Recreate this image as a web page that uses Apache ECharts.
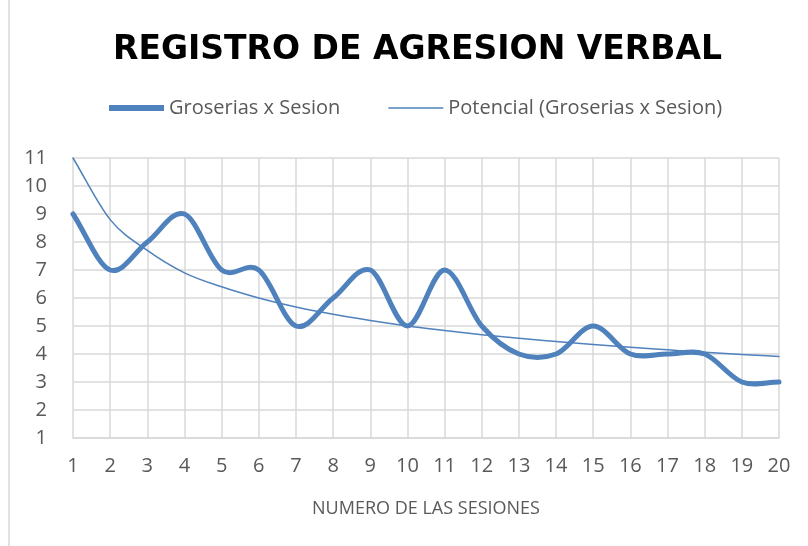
<!DOCTYPE html>
<html>
<head>
<meta charset="utf-8">
<script src="https://cdn.jsdelivr.net/npm/echarts@6/dist/echarts.min.js"></script>
<style>html,body{margin:0;padding:0;background:#fff}#c{width:808px;height:546px}</style>
</head>
<body>
<div id="c"></div>
<script>
const sessions = ['1','2','3','4','5','6','7','8','9','10','11','12','13','14','15','16','17','18','19','20'];
const groserias = [9,7,8,9,7,7,5,6,7,5,7,5,4,4,5,4,4,4,3,3];
const potencial = [11,8.8,7.7,6.9,6.4,6.0,5.68,5.42,5.2,5.0,4.84,4.69,4.56,4.45,4.34,4.24,4.15,4.06,3.98,3.91];
const yTicks = {min:1, max:11, interval:1};

const font = '"Open Sans", sans-serif';
const BLUE = '#4F81BD';

// Smooth (Catmull-Rom style, like Excel) curve through the data, positioned via api.coord
function makeSmoothRender(values, width) {
  return function (params, api) {
    if (params.dataIndex !== 0) return null;
    const n = values.length;
    const p = [];
    for (let i = 0; i < n; i++) p.push(api.coord([i, values[i]]));
    const first = [2 * p[0][0] - p[1][0], 2 * p[0][1] - p[1][1]];
    const last = [2 * p[n - 1][0] - p[n - 2][0], 2 * p[n - 1][1] - p[n - 2][1]];
    const get = (k) => k < 0 ? first : (k > n - 1 ? last : p[k]);
    let d = 'M' + p[0][0] + ',' + p[0][1];
    for (let i = 0; i < n - 1; i++) {
      const p0 = get(i - 1), p1 = p[i], p2 = p[i + 1], p3 = get(i + 2);
      const c1x = p1[0] + (p2[0] - p0[0]) / 6, c1y = p1[1] + (p2[1] - p0[1]) / 6;
      const c2x = p2[0] - (p3[0] - p1[0]) / 6, c2y = p2[1] - (p3[1] - p1[1]) / 6;
      d += 'C' + c1x + ',' + c1y + ' ' + c2x + ',' + c2y + ' ' + p2[0] + ',' + p2[1];
    }
    return {
      type: 'path',
      shape: { pathData: d },
      style: { stroke: BLUE, lineWidth: width, fill: null, lineJoin: 'round', lineCap: 'round' }
    };
  };
}

const chart = echarts.init(document.getElementById('c'));
chart.setOption({
  animation:false,
  backgroundColor:'#fff',
  title:{
    text:'REGISTRO DE AGRESION VERBAL',
    left:108, top:29,
    textStyle:{fontFamily:'"DejaVu Sans", sans-serif', fontWeight:'bold', fontSize:33, color:'#000'}
  },
  legend:{
    top:93, left:104, itemGap:48, itemWidth:55, itemHeight:6,
    textStyle:{fontFamily:font, fontSize:20, color:'#595959'},
    data:[
      {name:'Groserias x Sesion', icon:'rect', itemStyle:{color:BLUE}},
      {name:'Potencial (Groserias x Sesion)', icon:'path://M0,0L0.05,0L0.05,0.05Z M0,6L0.05,6L0.05,5.95Z M0,2.3L60,2.3L60,3.7L0,3.7Z', itemStyle:{color:BLUE}}
    ]
  },
  grid:{left:73, right:29, top:158, bottom:108},
  xAxis:{
    type:'category', data:sessions, boundaryGap:false,
    name:'NUMERO DE LAS SESIONES', nameLocation:'middle', nameGap:62,
    nameTextStyle:{fontFamily:font, fontSize:18, color:'#595959'},
    axisLine:{lineStyle:{color:'#D9D9D9', width:1.5}},
    axisTick:{show:false},
    axisLabel:{fontFamily:font, fontSize:20, color:'#595959', margin:18, interval:0},
    splitLine:{show:true, lineStyle:{color:'#D9D9D9', width:1.5}}
  },
  yAxis:{
    type:'value', min:yTicks.min, max:yTicks.max, interval:yTicks.interval,
    axisLine:{show:false}, axisTick:{show:false},
    axisLabel:{fontFamily:font, fontSize:20, color:'#595959', margin:26},
    splitLine:{show:true, lineStyle:{color:'#D9D9D9', width:1.5}}
  },
  graphic:[{type:'line', shape:{x1:9,y1:0,x2:9,y2:546}, style:{stroke:'#D9D9D9', lineWidth:1.5}}],
  series:[
    {name:'Groserias x Sesion', type:'custom', renderItem:makeSmoothRender(groserias, 5),
     data:groserias.map((v,i)=>[i,v]), encode:{x:0,y:1}, itemStyle:{color:BLUE}, z:3},
    {name:'Potencial (Groserias x Sesion)', type:'custom', renderItem:makeSmoothRender(potencial, 1.5),
     data:potencial.map((v,i)=>[i,v]), encode:{x:0,y:1}, itemStyle:{color:BLUE}, z:2}
  ]
});
</script>
</body>
</html>
